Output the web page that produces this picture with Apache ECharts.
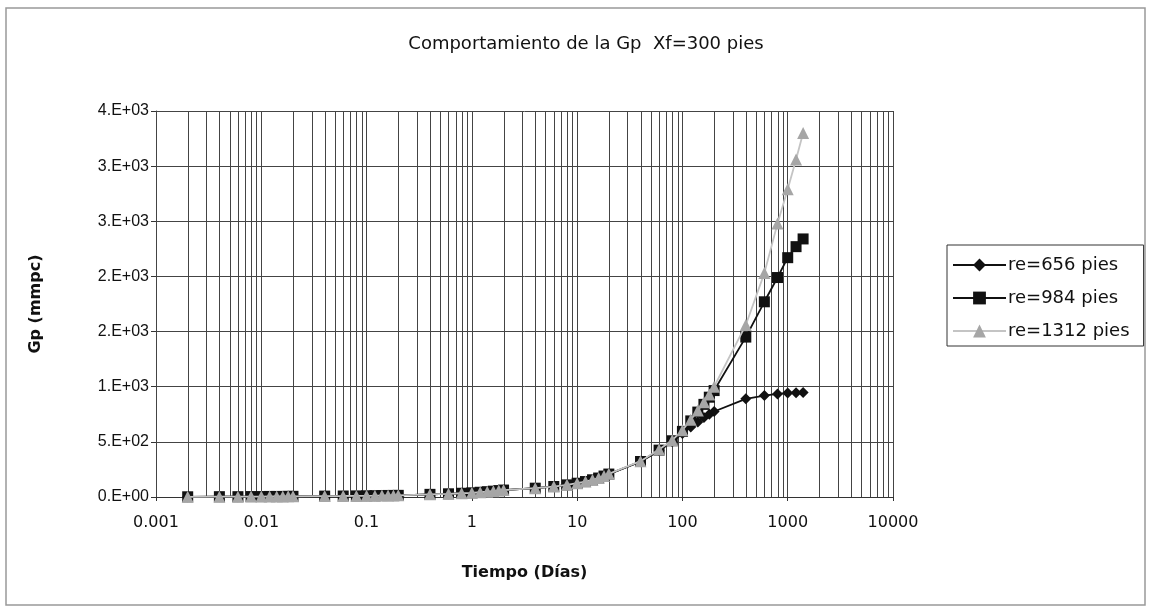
<!DOCTYPE html>
<html>
<head>
<meta charset="utf-8">
<script src="https://cdn.jsdelivr.net/npm/echarts@6/dist/echarts.min.js"></script>
<style>
  html, body { margin: 0; padding: 0; background: #fff; }
  #chart { width: 1149px; height: 610px; }
</style>
</head>
<body>
<div id="chart"></div>
<script>
// Tiempo (días) de cada paso
const tiempo = [
  0.002, 0.004, 0.006, 0.008, 0.01, 0.012, 0.014, 0.016, 0.018, 0.02,
  0.04, 0.06, 0.08, 0.1, 0.12, 0.14, 0.16, 0.18, 0.2,
  0.4, 0.6, 0.8, 1, 1.2, 1.4, 1.6, 1.8, 2,
  4, 6, 8, 10, 12, 14, 16, 18, 20,
  40, 60, 80, 100, 120, 140, 160, 180, 200,
  400, 600, 800, 1000, 1200, 1400
];

// Producción acumulada Gp (mmpc) para cada radio de drene
const gpRe656 = [
  2, 3, 3, 4, 4, 5, 5, 5, 6, 6,
  8, 9, 10, 11, 12, 13, 14, 14, 15,
  24, 29, 34, 38, 43, 48, 53, 58, 63,
  80, 95, 110, 125, 140, 156, 172, 190, 208,
  320, 420, 500, 575, 635, 680, 720, 750, 775,
  890, 920, 935, 942, 946, 948
];
const gpRe984 = [
  2, 3, 3, 4, 4, 5, 5, 5, 6, 6,
  8, 9, 10, 11, 12, 13, 14, 14, 15,
  24, 29, 34, 38, 43, 48, 53, 58, 63,
  80, 95, 110, 125, 140, 156, 172, 190, 208,
  322, 425, 510, 595, 690, 770, 840, 905, 965,
  1450, 1770, 1990, 2170, 2270, 2340
];
const gpRe1312 = [
  2, 3, 3, 4, 4, 5, 5, 5, 6, 6,
  8, 9, 10, 11, 12, 13, 14, 14, 15,
  24, 29, 34, 38, 43, 48, 53, 58, 63,
  80, 95, 110, 125, 140, 156, 172, 190, 210,
  325, 430, 515, 605, 700, 785, 860, 930, 1000,
  1560, 2030, 2480, 2790, 3060, 3300
];

const seriesNames = ['re=656 pies', 're=984 pies', 're=1312 pies'];

// Etiquetas de los ejes
const xTickLabels = ['0.001', '0.01', '0.1', '1', '10', '100', '1000', '10000'];
const yTickLabels = ['0.E+00', '5.E+02', '1.E+03', '2.E+03', '2.E+03', '3.E+03', '3.E+03', '4.E+03'];

const X_MIN = 0.001, X_MAX = 10000;
const Y_MAX = 3500, Y_STEP = 500;

// Líneas secundarias de la escala logarítmica (2..9 en cada década)
const logGridValues = [];
for (let e = -3; e < 4; e++) {
  for (let k = 2; k <= 9; k++) logGridValues.push(+(k * Math.pow(10, e)).toPrecision(3));
}

const gridColor = '#444';
const SANS = 'Liberation Sans, Arial, sans-serif';
const WIDE = 'DejaVu Sans, Verdana, sans-serif';

const pair = (ys) => tiempo.map((t, i) => [t, ys[i]]);

const chart = echarts.init(document.getElementById('chart'), null, { renderer: 'canvas' });

chart.setOption({
  backgroundColor: '#fff',
  animation: false,
  title: {
    text: 'Comportamiento de la Gp  Xf=300 pies',
    left: 581,
    top: 30,
    textAlign: 'center',
    textStyle: { fontFamily: WIDE, fontSize: 18, fontWeight: 'normal', color: '#111' }
  },
  graphic: [{
    type: 'rect',
    shape: { x: 6, y: 8, width: 1139, height: 597 },
    style: { fill: 'none', stroke: '#999', lineWidth: 1.5 },
    silent: true,
    z: -10
  }],
  legend: {
    data: seriesNames,
    orient: 'vertical',
    left: 947,
    top: 245,
    padding: [11, 14, 6, 5],
    itemGap: 15,
    itemWidth: 53,
    itemHeight: 16,
    borderColor: '#333',
    borderWidth: 1,
    backgroundColor: '#fff',
    textStyle: { fontFamily: WIDE, fontSize: 18, color: '#111', padding: [0, 0, 0, -3] }
  },
  grid: { left: 156, right: 256, top: 111, bottom: 113, containLabel: false },
  xAxis: {
    type: 'log',
    logBase: 10,
    min: X_MIN,
    max: X_MAX,
    name: 'Tiempo (Días)',
    nameLocation: 'middle',
    nameGap: 68,
    nameTextStyle: { fontFamily: WIDE, fontSize: 16, fontWeight: 'bold', color: '#111' },
    axisLine: { show: true, lineStyle: { color: '#333', width: 1 } },
    axisTick: { show: true, length: 4, lineStyle: { color: '#333' } },
    axisLabel: {
      margin: 18,
      fontFamily: WIDE,
      fontSize: 16,
      color: '#111',
      formatter: (v) => xTickLabels[Math.round(Math.log10(v)) + 3]
    },
    splitLine: { show: true, lineStyle: { color: gridColor, width: 1 } }
  },
  yAxis: {
    type: 'value',
    min: 0,
    max: Y_MAX,
    interval: Y_STEP,
    name: 'Gp (mmpc)',
    nameLocation: 'middle',
    nameRotate: 90,
    nameGap: 112,
    nameTextStyle: { fontFamily: WIDE, fontSize: 16, fontWeight: 'bold', color: '#111' },
    axisLine: { show: true, lineStyle: { color: gridColor, width: 1 } },
    axisTick: { show: true, length: 5, lineStyle: { color: '#333' } },
    axisLabel: {
      margin: 7,
      fontFamily: SANS,
      fontSize: 16,
      color: '#111',
      formatter: (v) => yTickLabels[Math.round(v / Y_STEP)]
    },
    splitLine: { show: true, lineStyle: { color: gridColor, width: 1 } }
  },
  series: [
    {
      type: 'custom',
      name: 'minorGrid',
      silent: true,
      z: 1,
      data: logGridValues.map((v) => [v, 0]),
      encode: { x: 0, y: 1 },
      renderItem: (params, api) => {
        const v = api.value(0);
        const top = api.coord([v, Y_MAX]);
        const bot = api.coord([v, 0]);
        const x = Math.round(top[0]) + 0.5;
        return {
          type: 'line',
          shape: { x1: x, y1: top[1], x2: x, y2: bot[1] },
          style: { stroke: gridColor, lineWidth: 1 }
        };
      }
    },
    {
      type: 'line',
      name: seriesNames[0],
      data: pair(gpRe656),
      z: 3,
      symbol: 'diamond',
      symbolSize: 11,
      itemStyle: { color: '#111' },
      lineStyle: { color: '#111', width: 1.8 }
    },
    {
      type: 'line',
      name: seriesNames[1],
      data: pair(gpRe984),
      z: 4,
      symbol: 'rect',
      symbolSize: 11,
      itemStyle: { color: '#111' },
      lineStyle: { color: '#111', width: 1.8 }
    },
    {
      type: 'line',
      name: seriesNames[2],
      data: pair(gpRe1312),
      z: 5,
      symbol: 'triangle',
      symbolSize: 12,
      itemStyle: { color: '#a6a6a6' },
      lineStyle: { color: '#c4c4c4', width: 1.8 }
    }
  ]
});
</script>
</body>
</html>
